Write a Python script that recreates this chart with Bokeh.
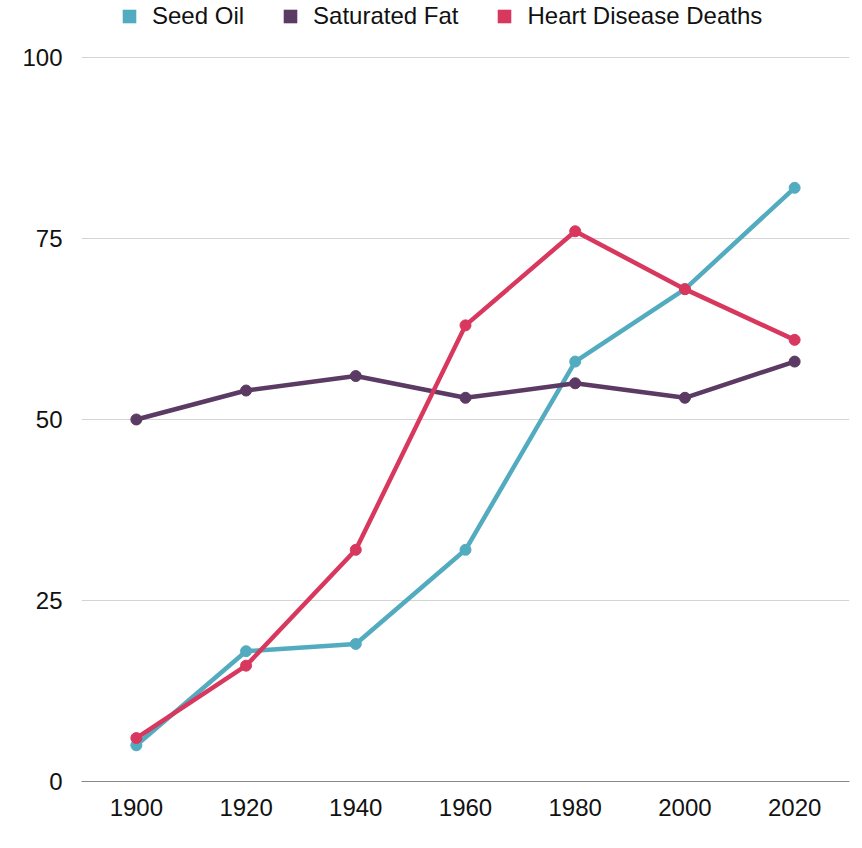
from bokeh.plotting import figure
from bokeh.models import Legend, LegendItem, FactorRange, Range1d, FixedTicker, ColumnDataSource
from bokeh.embed import file_html
from bokeh.resources import INLINE

# Data
years = ["1900", "1920", "1940", "1960", "1980", "2000", "2020"]
seed_oil = [5, 18, 19, 32, 58, 68, 82]
saturated_fat = [50, 54, 56, 53, 55, 53, 58]
heart_deaths = [6, 16, 32, 63, 76, 68, 61]

names = ["Seed Oil", "Saturated Fat", "Heart Disease Deaths"]
colors = ["#53abc0", "#5b3a63", "#d8385e"]
y_ticks = [0, 25, 50, 75, 100]

FONT = "Liberation Sans"

# frame runs to the top of the figure so the legend can sit inside it
p = figure(
    x_range=FactorRange(*years),
    y_range=Range1d(0, 107.87),
    width=854, height=840,
    output_backend="svg",
    toolbar_location=None,
    min_border_left=81, min_border_right=5,
    min_border_top=0, min_border_bottom=59,
)
p.outline_line_color = None
p.xgrid.grid_line_color = None
p.ygrid.grid_line_color = "#d4d4d4"
p.ygrid.grid_line_width = 1

p.yaxis.ticker = FixedTicker(ticks=y_ticks)
p.yaxis.axis_line_color = None
p.yaxis.major_tick_line_color = None
p.yaxis.minor_tick_line_color = None
p.yaxis.major_tick_out = 0
p.yaxis.major_label_standoff = 19

p.xaxis.axis_line_color = "#888888"
p.xaxis.axis_line_width = 1
p.xaxis.major_tick_line_color = None
p.xaxis.major_tick_out = 0
p.xaxis.major_label_standoff = 17

for ax in (p.xaxis, p.yaxis):
    ax.major_label_text_font = FONT
    ax.major_label_text_font_size = "24px"
    ax.major_label_text_color = "#111111"

# Draw the series
series = [seed_oil, saturated_fat, heart_deaths]
for vals, color in zip(series, colors):
    src = ColumnDataSource(dict(x=years, y=vals))
    p.line("x", "y", source=src, line_color=color, line_width=4.5)
    p.scatter("x", "y", source=src, size=11, fill_color=color, line_color=color)

# zero-size square markers, only used for the square legend swatches
items = []
for name, vals, color in zip(names, series, colors):
    r = p.scatter(years, vals, marker="square", size=0, fill_color=color, line_color=None)
    items.append(LegendItem(label=name, renderers=[r]))

legend = Legend(
    items=items,
    orientation="horizontal",
    location=(31, 748),
    glyph_width=34, glyph_height=34,
    label_standoff=6,
    spacing=29,
    padding=0, margin=0,
    border_line_color=None,
    background_fill_alpha=0,
    label_text_font=FONT,
    label_text_font_size="24px",
    label_text_color="#111111",
)
p.add_layout(legend, "center")

open("out.html", "w").write(file_html(p, INLINE))
